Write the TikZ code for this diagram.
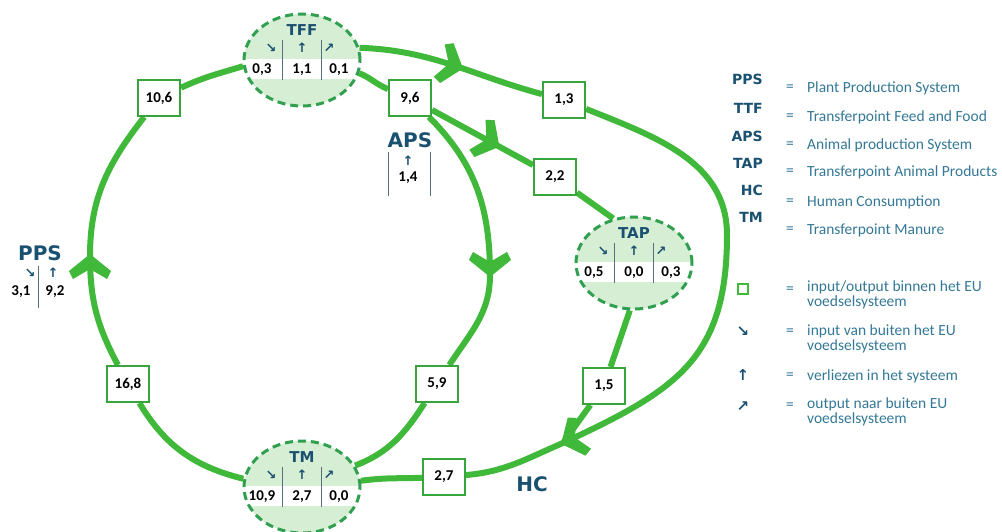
\documentclass[tikz,border=0pt]{standalone}
\usepackage{fontspec}
\setmainfont{Carlito}
\newfontfamily\titlefont{DejaVu Sans}
\usetikzlibrary{arrows.meta,decorations.markings,shapes.geometric,backgrounds}
\definecolor{flowgreen}{RGB}{64,184,58}
\definecolor{hubline}{RGB}{48,160,80}
\definecolor{hubfill}{RGB}{214,238,212}
\definecolor{boxgreen}{RGB}{56,165,60}
\definecolor{navy}{RGB}{26,80,112}
\definecolor{legtext}{RGB}{52,120,150}
\definecolor{sepgray}{RGB}{90,110,130}
\tikzset{
  flow/.style={draw=flowgreen, line width=6pt},
  chevat/.style={postaction={decorate,decoration={markings,mark=at position #1 with
    {\fill[flowgreen] (2,0) -- (-15,21) -- (-23,17) -- (-13,0) -- (-23,-17) -- (-15,-21) -- cycle;}}}},
  hubshape/.style={ellipse, minimum width=116pt, minimum height=92pt, inner sep=0pt,
    draw=hubline, line width=3pt, dash pattern=on 8pt off 5pt},
  valbox/.style={draw=boxgreen, line width=2pt, fill=white, minimum width=42pt,
    minimum height=36pt, inner sep=0pt, font=\bfseries\fontsize{15}{15}\selectfont},
  num/.style={inner sep=0pt, font=\bfseries\fontsize{15}{15}\selectfont},
  sym/.style={inner sep=0pt, text=navy, font=\titlefont\bfseries\fontsize{13}{13}\selectfont},
  legsym/.style={inner sep=0pt, text=navy, font=\titlefont\bfseries\fontsize{15}{15}\selectfont},
  hubtitle/.style={inner sep=0pt, text=navy, font=\titlefont\bfseries\fontsize{15}{15}\selectfont},
  bigtitle/.style={inner sep=0pt, text=navy, font=\titlefont\bfseries\fontsize{20}{20}\selectfont},
  sepline/.style={draw=sepgray, line width=1pt},
  abbr/.style={anchor=east, inner sep=0pt, text=navy, font=\titlefont\bfseries\fontsize{14}{14}\selectfont},
  eqsign/.style={inner sep=0pt, text=legtext, font=\fontsize{15.5}{15.5}\selectfont},
  desc/.style={anchor=west, inner sep=0pt, text=legtext, align=left, font=\fontsize{15.5}{14.5}\selectfont},
}
\newcommand{\hubnode}[6]{%
  \begin{scope}[shift={#2}]
    \fill[hubfill] (0,0) ellipse [x radius=58pt, y radius=46pt];
    \begin{scope}
      \clip (0,0) ellipse [x radius=58pt, y radius=46pt];
      \fill[white] (-60,1) rectangle (60,-19);
    \end{scope}
    \node[hubshape] (#1) at (0,0) {};
    \draw[sepline] (-20,20) -- (-20,-20) (19,20) -- (19,-20);
    \node[hubtitle] (#1t) at (0,30) {#3};
    \node[sym] (#1s1) at (-31,12) {↘};
    \node[sym] (#1s2) at (0,12) {↑};
    \node[sym] (#1s3) at (27,12) {↗};
    \node[num] (#1n1) at (-40,-10) {#4};
    \node[num] (#1n2) at (0,-10) {#5};
    \node[num] (#1n3) at (37,-10) {#6};
  \end{scope}}
\begin{document}
\begin{tikzpicture}[x=1pt,y=1pt]
\useasboundingbox (0,0) rectangle (1002,-532);
% hubs
\hubnode{tff}{(302,-60)}{TFF}{0,3}{1,1}{0,1}
\hubnode{tap}{(634,-263)}{TAP}{0,5}{0,0}{0,3}
\hubnode{tm}{(302,-487)}{TM}{10,9}{2,7}{0,0}
% value boxes
\node[valbox] (b106) at (159,-98) {10,6};
\node[valbox] (b96) at (410,-98) {9,6};
\node[valbox] (b13) at (564,-100) {1,3};
\node[valbox] (b22) at (555,-177) {2,2};
\node[valbox] (b168) at (128,-384) {16,8};
\node[valbox] (b59) at (437,-384) {5,9};
\node[valbox] (b15) at (604,-386) {1,5};
\node[valbox] (b27) at (444,-477) {2,7};
% points on the flows
\coordinate (pL) at (90,-256);
\coordinate (pA) at (490,-275);
\coordinate (pR) at (727,-235);
\coordinate (hc) at (563,-443);
% PPS label
\node[bigtitle] (ppsl) at (40,-253) {PPS};
\node[sym] (ppss1) at (30,-273) {↘};
\node[sym] (ppss2) at (53,-273) {↑};
\node[num] (ppsn1) at (21,-292) {3,1};
\node[num] (ppsn2) at (55,-292) {9,2};
\draw[sepline] (38,-266) -- (38,-308);
% APS label
\node[bigtitle] (apsl) at (410,-140) {APS};
\node[sym] (apss) at (408,-161) {↑};
\node[num] (apsn) at (408,-178) {1,4};
\draw[sepline] (388,-152) -- (388,-196) (430,-152) -- (430,-196);
% HC label
\node[bigtitle] (hcl) at (532,-484) {HC};
% connectors
\begin{scope}[on background layer]
  \draw[flow,chevat=0.9999] (b168) to[out=118,in=-90] (pL);
  \draw[flow] (pL) to[out=90,in=232] (b106);
  \draw[flow] (b106) to[out=25,in=197] (tff.186);
  \draw[flow] (tm.172) to[out=166,in=-59] (b168);
  \draw[flow,chevat=0.55] (tff.12) to[out=-2,in=165] (b13);
  \draw[flow] (b13) to[out=-22,in=90] (pR);
  \draw[flow,chevat=0.9999] (pR) to[out=-90,in=25,looseness=1.2] (hc);
  \draw[flow] (tff.-13) to[out=-22,in=158] (b96);
  \draw[flow,chevat=0.65] (b96) -- (b22);
  \draw[flow] (b22) -- (tap.115);
  \draw[flow,chevat=0.9999] (b96) to[out=-45,in=90] (pA);
  \draw[flow] (pA) to[out=-90,in=57] (b59);
  \draw[flow] (b59) to[out=237,in=21] (tm.22);
  \draw[flow] (tap.-95) -- (b15);
  \draw[flow] (b15) -- (hc);
  \draw[flow] (hc) to[out=203,in=5] (b27);
  \draw[flow] (b27) to[out=182,in=8] (tm.6);
\end{scope}
% legend
\node[abbr] (lab1) at (763,-79) {PPS};
\node[abbr] (lab2) at (763,-108) {TTF};
\node[abbr] (lab3) at (763,-136) {APS};
\node[abbr] (lab4) at (763,-163) {TAP};
\node[abbr] (lab5) at (763,-190) {HC};
\node[abbr] (lab6) at (763,-217) {TM};
\node[eqsign] (leq1) at (790,-88) {=};
\node[eqsign] (leq2) at (790,-117) {=};
\node[eqsign] (leq3) at (790,-145) {=};
\node[eqsign] (leq4) at (790,-172) {=};
\node[eqsign] (leq5) at (790,-202) {=};
\node[eqsign] (leq6) at (790,-230) {=};
\node[desc] (ld1) at (807,-88) {Plant Production System};
\node[desc] (ld2) at (807,-117) {Transferpoint Feed and Food};
\node[desc] (ld3) at (807,-145) {Animal production System};
\node[desc] (ld4) at (807,-172) {Transferpoint Animal Products};
\node[desc] (ld5) at (807,-202) {Human Consumption};
\node[desc] (ld6) at (807,-230) {Transferpoint Manure};
\node[draw=flowgreen, line width=2.5pt, minimum size=10pt, inner sep=0pt] (lsq) at (743,-289) {};
\node[legsym] (lsy1) at (743,-332) {↘};
\node[legsym] (lsy2) at (743,-375) {↑};
\node[legsym] (lsy3) at (743,-407) {↗};
\node[eqsign] (leq7) at (790,-290) {=};
\node[eqsign] (leq8) at (790,-332) {=};
\node[eqsign] (leq9) at (790,-376) {=};
\node[eqsign] (leq10) at (790,-406) {=};
\node[desc] (ld7) at (807,-295) {input/output binnen het EU\\voedselsysteem};
\node[desc] (ld8) at (807,-339) {input van buiten het EU\\voedselsysteem};
\node[desc] (ld9) at (807,-376) {verliezen in het systeem};
\node[desc] (ld10) at (807,-412) {output naar buiten EU\\voedselsysteem};
\end{tikzpicture}
\end{document}
